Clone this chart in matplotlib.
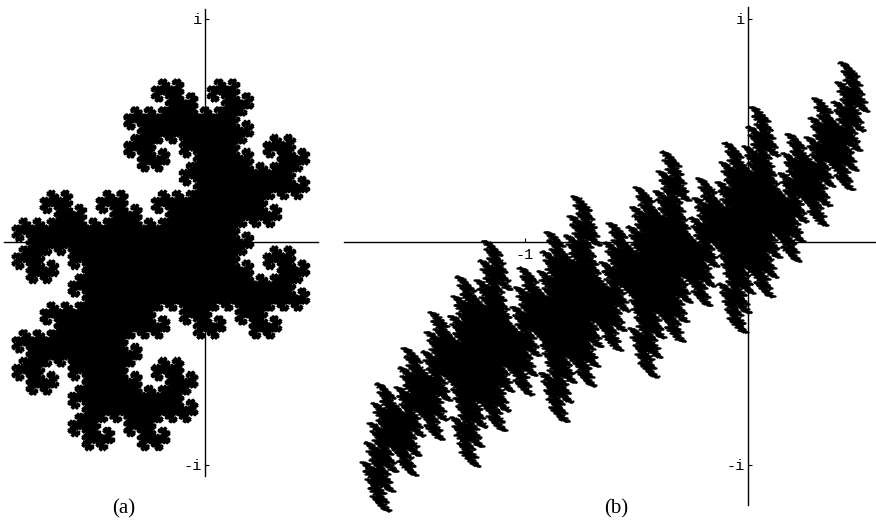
import numpy as np
import matplotlib
matplotlib.use("Agg")
import matplotlib.pyplot as plt

# complex bases and digit sets of the two fractals
base_a = complex(-1, 1)
digits_a = [0, 1]
depth_a = 18

base_b = complex(-2, 1)
digits_b = [0, 1, 2, 3, 4]
depth_b = 7

ticks_a_y = [1, -1]
ticklabels_a_y = ["i", "-i"]
ticks_b_x = [-1]
ticklabels_b_x = ["-1"]
ticks_b_y = [1, -1]
ticklabels_b_y = ["i", "-i"]

W, H = 876, 522
UNIT = 223.0
ORIGIN_Y = 242.0


def radix_points(base, digits, depth):
    # all sums d1/b + d2/b^2 + ... up to the given depth
    z = np.zeros(1, dtype=np.complex64)
    d = np.array(digits, dtype=np.complex64)
    for _ in range(depth):
        z = ((z[:, None] + d) / base).ravel()
    return z


def make_axes(fig, left, right, origin_x):
    # axes covering left..right px, full height, 223 px per unit
    ax = fig.add_axes([left / W, 0, (right - left) / W, 1])
    ax.set_xlim((left - origin_x) / UNIT, (right - origin_x) / UNIT)
    ax.set_ylim((ORIGIN_Y - H) / UNIT, ORIGIN_Y / UNIT)
    ax.set_aspect("equal")
    ax.patch.set_alpha(0)
    for s in ["top", "right"]:
        ax.spines[s].set_visible(False)
    ax.spines["left"].set_position(("data", 0))
    ax.spines["bottom"].set_position(("data", 0))
    ax.spines["left"].set_linewidth(1.0)
    ax.spines["bottom"].set_linewidth(1.0)
    ax.set_xticks([])
    ax.set_yticks([])
    return ax


fig = plt.figure(figsize=(W / 100, H / 100), dpi=100, facecolor="white")

# (a)
ax1 = make_axes(fig, 0, 330, 205)
pts = radix_points(base_a, digits_a, depth_a)
ax1.plot(pts.real, pts.imag, "o", ms=1.1, mew=0, color="black", zorder=1)
ax1.spines["left"].set_bounds((ORIGIN_Y - 476) / UNIT, (ORIGIN_Y - 9) / UNIT)
ax1.spines["bottom"].set_bounds((4 - 205) / UNIT, (318 - 205) / UNIT)
ax1.set_yticks(ticks_a_y, ticklabels_a_y, family="Liberation Mono", fontsize=11)
ax1.tick_params(axis="y", direction="in", length=3, width=0.8, pad=2)

# (b)
ax2 = make_axes(fig, 340, 876, 748)
pts = radix_points(base_b, digits_b, depth_b)
ax2.plot(pts.real, pts.imag, "o", ms=1.6, mew=0, color="black", zorder=1)
ax2.spines["left"].set_bounds((ORIGIN_Y - 505) / UNIT, (ORIGIN_Y - 7) / UNIT)
ax2.spines["bottom"].set_bounds((344 - 748) / UNIT, (876 - 748) / UNIT)
ax2.set_xticks(ticks_b_x, ticklabels_b_x, family="Liberation Mono", fontsize=11)
ax2.set_yticks(ticks_b_y, ticklabels_b_y, family="Liberation Mono", fontsize=11)
ax2.tick_params(axis="both", direction="in", length=3, width=0.8, pad=4)
ax2.tick_params(axis="y", pad=2)

fig.text(123.5 / W, 1 - 509 / H, "(a)", family="Liberation Serif", fontsize=15,
         ha="center", va="center")
fig.text(616 / W, 1 - 509 / H, "(b)", family="Liberation Serif", fontsize=15,
         ha="center", va="center")

fig.savefig("out.png", dpi=100)
